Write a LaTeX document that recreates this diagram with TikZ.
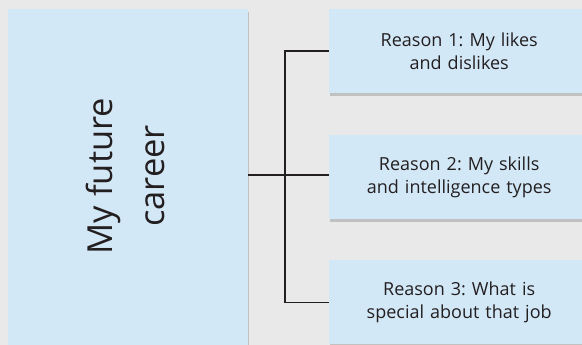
\documentclass[tikz,border=0pt]{standalone}
\usepackage{fontspec}
\setmainfont{Open Sans}
\usetikzlibrary{shadows}
\definecolor{bg}{HTML}{E9E9EA}
\definecolor{boxfill}{HTML}{D3E8F7}
\definecolor{txt}{HTML}{231F20}
\tikzset{
  box/.style={fill=boxfill, draw=none, inner sep=0pt, anchor=north west,
    drop shadow={shadow xshift=1pt, shadow yshift=-2.5pt, opacity=0.3, fill=black!60}},
  reason/.style={box, minimum width=260pt, minimum height=84pt, text width=250pt, align=center,
    font=\fontsize{18}{23}\selectfont, text=txt},
  conn/.style={draw=txt, line width=1.4pt}
}
\begin{document}
\frenchspacing
\begin{tikzpicture}[x=1pt,y=-1pt]
\fill[bg] (0,0) rectangle (582,345);
\useasboundingbox (0,0) rectangle (582,345);
\node[box, minimum width=240pt, minimum height=340pt] (main) at (8,9) {};
\node[rotate=90, align=center, font=\fontsize{34.5}{52}\selectfont, text=txt] (maintext) at (125,176) {My future\\career};
\node[reason] (r1) at (329,9) {Reason 1: My likes\\and dislikes};
\node[reason] (r2) at (329,135) {Reason 2: My skills\\and intelligence types};
\node[reason] (r3) at (329,260) {Reason 3: What is\\special about that job};
\coordinate (j) at (285,175);
\draw[conn] (main.east |- j) -- (j);
\draw[conn] (r1.west) -| (j) |- (r3.west);
\draw[conn] (j) -- (j -| r2.west);
\end{tikzpicture}
\end{document}
